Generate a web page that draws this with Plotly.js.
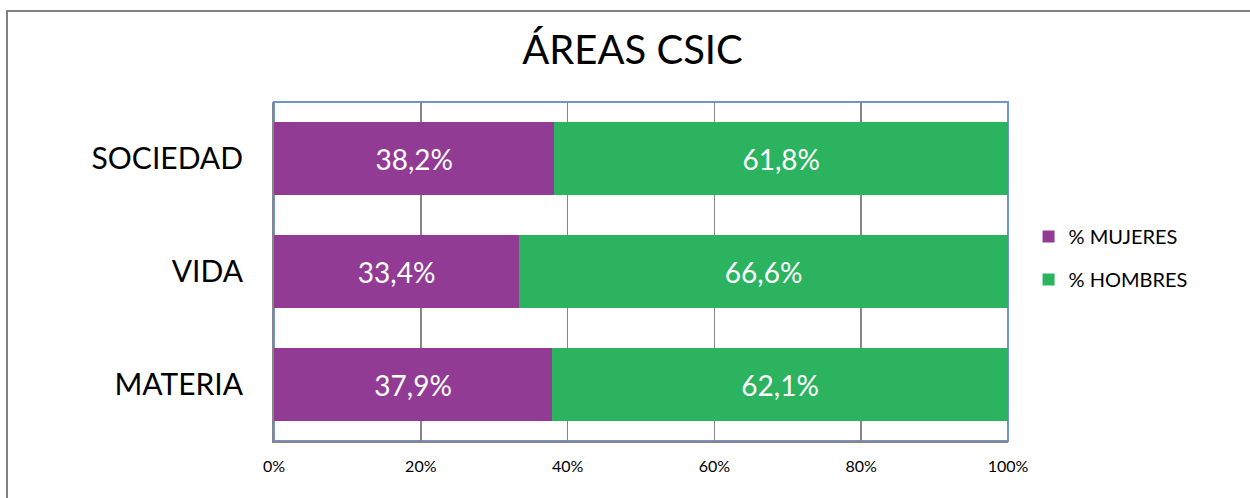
<!DOCTYPE html>
<html>
<head>
<meta charset="utf-8">
<script src="https://cdn.plot.ly/plotly-3.0.1.min.js"></script>
<style>
html,body{margin:0;padding:0;background:#fff;}
#wrap{position:relative;width:1250px;height:498px;overflow:hidden;}
#frame{position:absolute;left:6px;top:10px;width:1300px;height:600px;border-left:2px solid #808080;border-top:2px solid #808080;pointer-events:none;z-index:5;}
#chart{position:absolute;left:0;top:0;width:1250px;height:498px;}
</style>
</head>
<body>
<div id="wrap"><div id="chart"></div><div id="frame"></div></div>
<script>
const categories = ['MATERIA', 'VIDA', 'SOCIEDAD'];
const mujeres = [37.9, 33.4, 38.2];
const hombres = [62.1, 66.6, 61.8];
const seriesNames = ['% MUJERES', '% HOMBRES'];
const tickVals = [0, 20, 40, 60, 80, 100];
const tickText = ['0%', '20%', '40%', '60%', '80%', '100%'];

const FONT = 'Lato, "Open Sans", sans-serif';

const traces = [
  {type: 'bar', orientation: 'h', y: categories, x: mujeres, name: seriesNames[0],
   legendgroup: 'm',
   marker: {color: '#923B94'}, texttemplate: '%{x:.1f}%', textposition: 'inside',
   insidetextanchor: 'middle', textfont: {color: '#ffffff', size: 28, family: FONT},
   hoverinfo: 'x+name'},
  {type: 'bar', orientation: 'h', y: categories, x: hombres, name: seriesNames[1],
   legendgroup: 'h',
   marker: {color: '#2BB35F'}, texttemplate: '%{x:.1f}%', textposition: 'inside',
   insidetextanchor: 'middle', textfont: {color: '#ffffff', size: 28, family: FONT},
   hoverinfo: 'x+name'}
];

const layout = {
  width: 1250, height: 498,
  barmode: 'stack', bargap: 0.36,
  separators: ',.',
  paper_bgcolor: '#ffffff', plot_bgcolor: '#ffffff',
  margin: {l: 274, r: 242, t: 102, b: 57},
  font: {family: FONT, color: '#000000'},
  title: {text: 'ÁREAS CSIC', font: {size: 40, family: FONT, color: '#000'},
          x: 0.506, xanchor: 'center', y: 0.9, yanchor: 'middle', yref: 'container'},
  xaxis: {range: [0, 100], tickvals: tickVals, ticktext: tickText,
          showgrid: true, gridcolor: '#868686', gridwidth: 1.5,
          zeroline: false, showline: true, linecolor: '#868686', linewidth: 2,
          ticks: '', ticklabelstandoff: 10, tickfont: {size: 16, family: FONT, color: '#000'},
          fixedrange: true},
  yaxis: {showgrid: false, zeroline: false, showline: true, linecolor: '#868686', linewidth: 2,
          ticks: '', ticklabelstandoff: 23, tickfont: {size: 30, family: FONT, color: '#000'},
          fixedrange: true},
  legend: {x: 1.028, xanchor: 'left', y: 0.54, yanchor: 'middle', traceorder: 'grouped',
           font: {size: 20, family: FONT, color: '#000'}, itemwidth: 30, tracegroupgap: 14},
  shapes: [{type: 'rect', xref: 'paper', yref: 'paper', x0: 0, x1: 1, y0: 0, y1: 1,
            line: {color: '#6E95CF', width: 2}, layer: 'below'}],
  showlegend: true
};

Plotly.newPlot('chart', traces, layout, {displayModeBar: false, staticPlot: true});
</script>
</body>
</html>
